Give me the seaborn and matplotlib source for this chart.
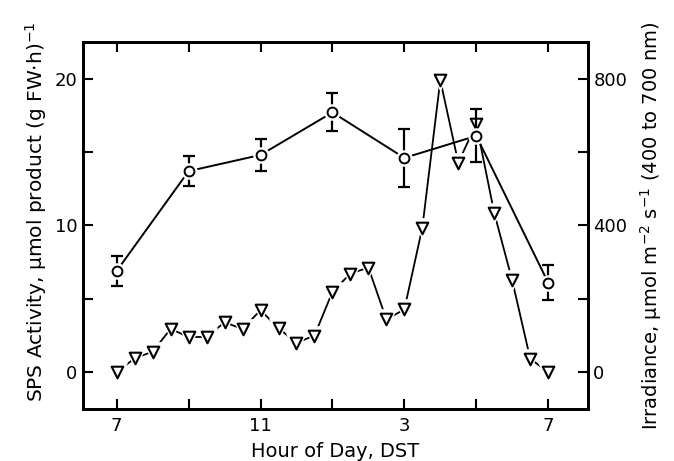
import matplotlib
matplotlib.use("Agg")
import matplotlib.pyplot as plt
import seaborn as sns

# --- Data ---
SPS_HOURS = [7, 9, 11, 13, 15, 17, 19]
SPS_ACTIVITY = [6.9, 13.7, 14.8, 17.7, 14.6, 16.1, 6.1]
SPS_ERR = [1.0, 1.0, 1.1, 1.3, 2.0, 1.8, 1.2]

IRR_HOURS = [7.0, 7.5, 8.0, 8.5, 9.0, 9.5, 10.0, 10.5, 11.0, 11.5, 12.0, 12.5,
             13.0, 13.5, 14.0, 14.5, 15.0, 15.5, 16.0, 16.5, 17.0, 17.5, 18.0,
             18.5, 19.0]
IRRADIANCE = [0, 38, 56, 118, 96, 96, 136, 118, 169, 120, 80, 100,
              219, 269, 285, 144, 171, 394, 796, 571, 677, 434, 250, 37, 0]

X_TICKS = [7, 9, 11, 13, 15, 17, 19]
X_LABELS = ["7", "", "11", "", "3", "", "7"]
LEFT_TICKS = [0, 5, 10, 15, 20]
LEFT_LABELS = ["0", "", "10", "", "20"]
RIGHT_TICKS = [0, 200, 400, 600, 800]
RIGHT_LABELS = ["0", "", "400", "", "800"]

sns.set_style("ticks")
plt.rcParams["font.family"] = ["DejaVu Sans"]
plt.rcParams["mathtext.fontset"] = "dejavusans"
plt.rcParams["text.color"] = "black"
plt.rcParams["axes.labelcolor"] = "black"

fig = plt.figure(figsize=(6.74, 4.61), dpi=100)
ax = fig.add_axes([0.123, 0.113, 0.749, 0.796])
ax2 = ax.twinx()

# irradiance: line with gaps around hollow triangles
sns.lineplot(x=IRR_HOURS, y=IRRADIANCE, ax=ax2, color="black", lw=1.3, zorder=1)
sns.scatterplot(x=IRR_HOURS, y=IRRADIANCE, ax=ax2, marker="v", s=190,
                color="white", edgecolor="white", zorder=2)
sns.scatterplot(x=IRR_HOURS, y=IRRADIANCE, ax=ax2, marker="v", s=70,
                facecolor="white", edgecolor="black", linewidth=1.5, zorder=3)

# SPS activity on top
ax.set_zorder(ax2.get_zorder() + 1)
ax.patch.set_visible(False)
sns.lineplot(x=SPS_HOURS, y=SPS_ACTIVITY, ax=ax, color="black", lw=1.4, zorder=1)
ax.errorbar(SPS_HOURS, SPS_ACTIVITY, yerr=SPS_ERR, fmt="none", ecolor="black",
            elinewidth=1.6, capsize=4.5, capthick=1.6, zorder=2)
sns.scatterplot(x=SPS_HOURS, y=SPS_ACTIVITY, ax=ax, marker="o", s=120,
                color="white", edgecolor="white", zorder=3)
sns.scatterplot(x=SPS_HOURS, y=SPS_ACTIVITY, ax=ax, marker="o", s=50,
                facecolor="white", edgecolor="black", linewidth=1.4, zorder=4)

ax.set_xlim(6.06, 20.1)
ax.set_ylim(-2.5, 22.5)
ax2.set_ylim(-100, 900)

ax.set_xticks(X_TICKS)
ax.set_xticklabels(X_LABELS)
ax.set_yticks(LEFT_TICKS)
ax.set_yticklabels(LEFT_LABELS)
ax2.set_yticks(RIGHT_TICKS)
ax2.set_yticklabels(RIGHT_LABELS)

for a in (ax, ax2):
    for s in a.spines.values():
        s.set_linewidth(2.0)
        s.set_color("black")
    a.tick_params(direction="in", length=7, width=1.5, labelsize=13,
                  colors="black", pad=4)
ax.tick_params(axis="x", top=True, bottom=True, pad=6)

ax.set_xlabel("Hour of Day, DST", fontsize=14, labelpad=5)
ax.set_ylabel(r"SPS Activity, µmol product (g FW$\cdot$h)$^{-1}$", fontsize=14.5)
ax.yaxis.set_label_coords(-0.068, 0.537)
ax2.set_ylabel(r"Irradiance, µmol m$^{-2}$ s$^{-1}$ (400 to 700 nm)", fontsize=14,
               rotation=90, labelpad=8)

fig.savefig("out.png", dpi=100)
